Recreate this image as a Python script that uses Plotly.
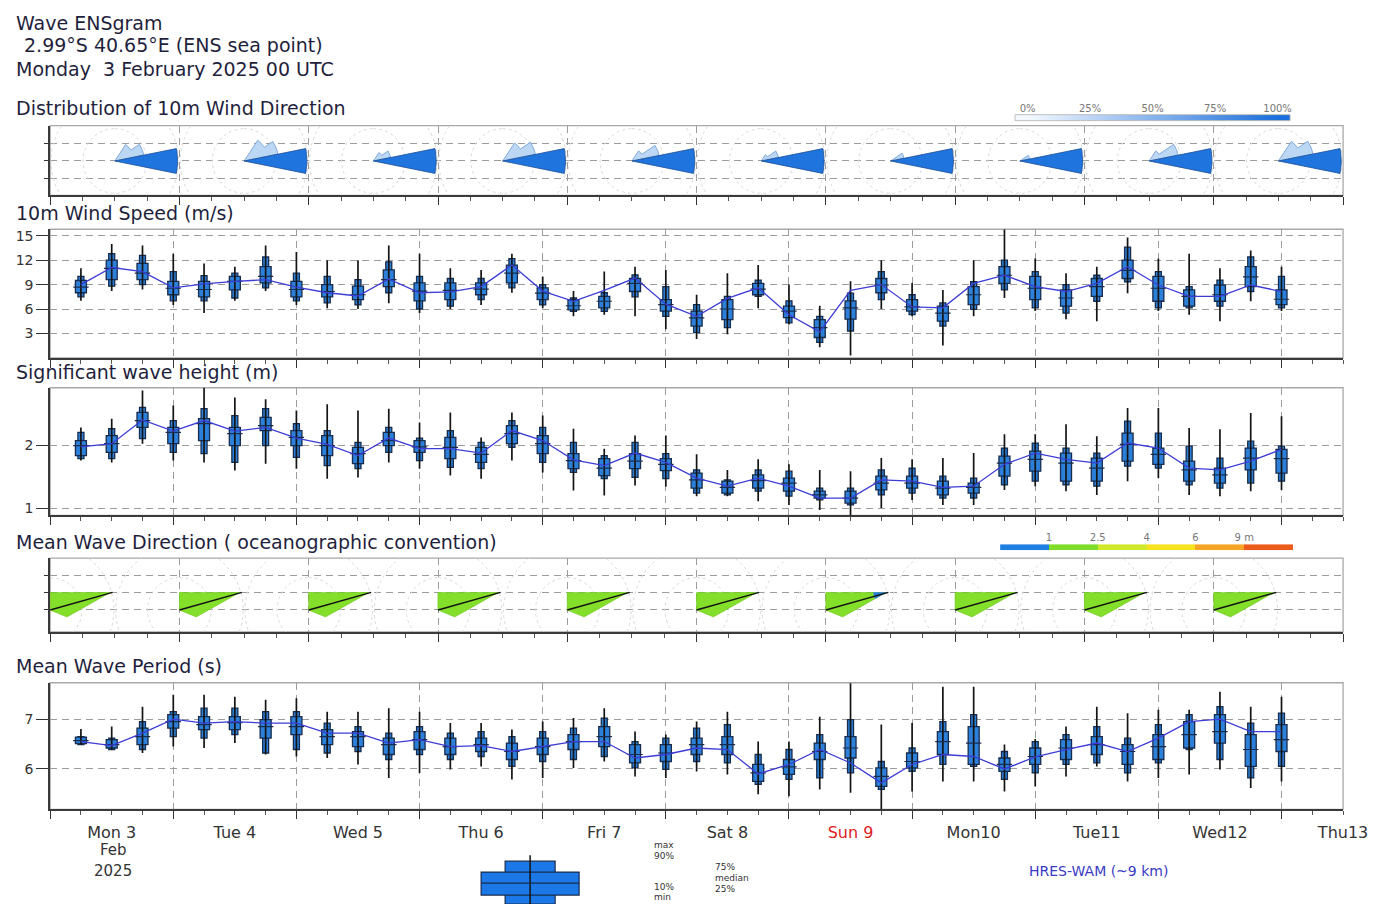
import numpy as np
import pandas as pd
import plotly.graph_objects as go

FONT = "DejaVu Sans"
# the page is rendered with the default 8px body margin; the photograph is squeezed
# horizontally by about 0.982, so reference x positions are converted accordingly
PAGE_OFF = 8
SX = 0.982
FIG_W, FIG_H = 1385, 897

# ---------------- data ----------------
box_times = pd.date_range("2025-02-03 06:00", periods=40, freq="6h")
day_label_times = pd.date_range("2025-02-03 12:00", periods=11, freq="D")
day_labels = ["Mon 3", "Tue 4", "Wed 5", "Thu 6", "Fri 7", "Sat 8",
              '<span style="color:#e0201e">Sun 9</span>', "Mon10", "Tue11", "Wed12", "Thu13"]

# 10m wind speed (m/s): ensemble min, p10, p25, median, p75, p90, max and HRES
ws_min = [7.0, 8.2, 8.4, 6.5, 5.5, 7.0, 8.2, 6.5, 6.1, 6.0, 6.7, 5.5, 6.0, 6.5, 8.0, 6.1, 5.1, 5.3, 5.1, 3.5,
          2.3, 2.9, 6.1, 4.1, 1.3, 0.3, 6.0, 5.1, 1.5, 5.1, 7.35, 5.75, 4.75, 4.5, 7.95, 5.75, 5.3, 4.5, 6.95, 5.75]
ws_p10 = [7.5, 8.8, 9.0, 7.0, 7.0, 7.35, 8.6, 7.0, 6.75, 6.5, 8.0, 6.0, 6.35, 7.15, 8.6, 6.5, 5.7, 5.7, 7.5, 5.1,
          3.1, 3.7, 7.55, 4.3, 1.9, 3.3, 7.15, 5.3, 3.9, 5.95, 8.35, 6.15, 5.5, 6.95, 9.35, 6.15, 6.15, 6.35, 8.15, 6.15]
ws_p25 = [8.0, 9.6, 9.6, 7.75, 7.5, 8.35, 9.2, 7.5, 7.5, 7.15, 8.75, 7.0, 7.15, 7.75, 9.2, 7.15, 5.9, 6.15, 8.15, 5.75,
          3.9, 4.7, 7.75, 4.95, 2.5, 4.75, 8.0, 5.75, 4.5, 6.55, 9.15, 7.15, 6.35, 7.55, 9.75, 6.95, 6.35, 6.95, 8.75, 6.55]
ws_med = [8.7, 11.0, 10.4, 8.55, 8.4, 9.4, 10.0, 8.4, 8.15, 7.75, 9.6, 8.2, 8.3, 8.45, 10.4, 7.95, 6.4, 6.95, 9.15, 6.55,
          4.9, 6.0, 8.45, 5.75, 3.7, 6.15, 8.95, 6.25, 5.5, 7.75, 10.15, 8.55, 7.35, 8.75, 10.75, 8.55, 7.55, 7.75, 9.95, 7.2]
ws_p75 = [9.5, 12.0, 11.6, 9.4, 9.4, 10.0, 11.2, 9.4, 9.0, 8.8, 10.8, 9.2, 9.2, 9.2, 11.4, 8.6, 7.15, 7.55, 9.75, 7.15,
          5.75, 7.15, 9.15, 6.35, 4.7, 7.0, 9.75, 7.15, 6.35, 8.75, 11.2, 10.0, 8.35, 9.75, 12.0, 10.0, 8.35, 8.95, 11.2, 8.35]
ws_p90 = [10.0, 12.8, 12.6, 10.6, 10.1, 10.4, 12.4, 10.4, 10.0, 9.6, 11.8, 10.0, 9.75, 9.75, 12.2, 9.0, 7.35, 8.0, 10.2, 8.75,
          6.55, 7.55, 9.55, 7.0, 5.1, 7.95, 10.6, 7.75, 6.75, 9.35, 12.0, 10.6, 9.0, 10.15, 13.6, 10.6, 8.75, 9.55, 12.4, 10.0]
ws_max = [11.0, 14.0, 13.8, 12.8, 11.6, 11.2, 13.8, 13.0, 12.0, 12.0, 13.8, 12.8, 11.0, 10.8, 12.8, 10.0, 8.2, 10.6, 11.2, 10.8,
          7.75, 10.4, 11.4, 9.0, 6.4, 9.4, 12.0, 9.2, 8.35, 12.0, 15.8, 12.2, 10.4, 11.2, 14.8, 12.2, 12.8, 11.0, 13.2, 11.2]
ws_hres = [9.0, 11.1, 10.6, 8.6, 9.1, 9.4, 9.6, 8.7, 8.0, 7.6, 9.7, 8.0, 8.1, 8.75, 11.4, 8.2, 6.95, 8.3, 9.8, 6.6,
           5.1, 7.3, 8.6, 5.3, 3.2, 8.3, 9.0, 6.25, 6.15, 9.15, 10.15, 8.75, 8.15, 9.15, 11.2, 8.95, 7.55, 7.55, 8.95, 8.15]

# Significant wave height (m)
swh_min = [1.76, 1.73, 2.03, 1.76, 1.73, 1.6, 1.71, 1.63, 1.47, 1.49, 1.73, 1.63, 1.52, 1.47, 1.76, 1.57, 1.28, 1.2, 1.36, 1.34,
           1.19, 1.19, 1.11, 1.05, 0.97, 0.89, 1.0, 1.13, 1.05, 1.05, 1.29, 1.35, 1.27, 1.21, 1.43, 1.48, 1.21, 1.19, 1.27, 1.29]
swh_p10 = [1.79, 1.79, 2.11, 1.89, 1.87, 1.73, 2.0, 1.81, 1.68, 1.63, 1.89, 1.76, 1.65, 1.63, 1.97, 1.73, 1.57, 1.47, 1.49, 1.47,
           1.24, 1.21, 1.27, 1.19, 1.13, 1.05, 1.21, 1.24, 1.16, 1.16, 1.37, 1.43, 1.37, 1.35, 1.67, 1.64, 1.37, 1.32, 1.4, 1.43]
swh_p25 = [1.84, 1.89, 2.29, 2.03, 2.08, 2.0, 2.24, 2.0, 1.84, 1.71, 2.0, 1.89, 1.79, 1.73, 2.03, 1.87, 1.63, 1.52, 1.63, 1.6,
           1.32, 1.24, 1.32, 1.27, 1.16, 1.08, 1.29, 1.32, 1.21, 1.24, 1.51, 1.59, 1.43, 1.43, 1.75, 1.7, 1.43, 1.4, 1.61, 1.56]
swh_med = [2.0, 2.03, 2.4, 2.21, 2.35, 2.19, 2.32, 2.13, 2.0, 1.87, 2.08, 1.98, 1.97, 1.86, 2.19, 2.03, 1.76, 1.64, 1.75, 1.7,
           1.45, 1.33, 1.44, 1.4, 1.21, 1.16, 1.4, 1.4, 1.32, 1.33, 1.72, 1.78, 1.72, 1.64, 2.02, 1.86, 1.61, 1.53, 1.8, 1.79]
swh_p75 = [2.08, 2.16, 2.53, 2.29, 2.43, 2.29, 2.45, 2.24, 2.16, 1.97, 2.21, 2.08, 2.13, 1.97, 2.32, 2.16, 1.87, 1.79, 1.87, 1.79,
           1.56, 1.43, 1.53, 1.48, 1.27, 1.27, 1.51, 1.51, 1.43, 1.4, 1.83, 1.91, 1.88, 1.8, 2.2, 1.96, 1.75, 1.64, 1.96, 1.94]
swh_p90 = [2.21, 2.27, 2.61, 2.4, 2.59, 2.48, 2.59, 2.35, 2.24, 2.05, 2.29, 2.12, 2.24, 2.05, 2.4, 2.29, 2.05, 1.84, 2.05, 1.87,
           1.61, 1.45, 1.61, 1.59, 1.32, 1.32, 1.61, 1.64, 1.51, 1.48, 1.96, 2.04, 1.96, 1.88, 2.39, 2.2, 1.99, 1.8, 2.07, 1.99]
swh_max = [2.29, 2.43, 2.88, 2.64, 2.93, 2.77, 2.74, 2.56, 2.66, 2.56, 2.59, 2.37, 2.53, 2.13, 2.53, 2.48, 2.27, 1.95, 2.16, 2.16,
           1.86, 1.61, 1.78, 1.7, 1.61, 1.59, 1.8, 1.78, 1.8, 1.88, 2.18, 2.18, 2.34, 2.15, 2.6, 2.6, 2.28, 2.26, 2.52, 2.47]
swh_hres = [1.98, 2.03, 2.41, 2.23, 2.4, 2.23, 2.29, 2.12, 2.02, 1.84, 2.12, 1.95, 1.95, 1.88, 2.24, 2.08, 1.77, 1.68, 1.88, 1.73,
            1.48, 1.35, 1.48, 1.35, 1.16, 1.16, 1.45, 1.43, 1.33, 1.35, 1.7, 1.88, 1.78, 1.72, 2.04, 1.96, 1.64, 1.61, 1.75, 1.94]

# Mean wave period (s)
mwp_min = [6.49, 6.39, 6.32, 6.45, 6.42, 6.52, 6.29, 6.25, 6.22, 6.09, 5.82, 5.92, 5.99, 6.05, 5.79, 5.82, 6.02, 6.15, 5.85, 5.82,
           5.95, 5.89, 5.49, 5.45, 5.59, 5.52, 5.19, 5.55, 5.75, 5.75, 5.55, 5.65, 5.85, 6.05, 5.75, 5.82, 5.89, 5.99, 5.62, 5.75]
mwp_p10 = [6.49, 6.39, 6.39, 6.65, 6.62, 6.69, 6.32, 6.39, 6.32, 6.35, 6.19, 6.29, 6.19, 6.25, 6.05, 6.15, 6.19, 6.25, 6.02, 5.99,
           6.15, 6.12, 5.69, 5.79, 5.82, 5.92, 5.59, 5.95, 6.09, 6.05, 5.79, 5.92, 6.09, 6.12, 5.92, 6.12, 6.39, 6.19, 5.82, 6.05]
mwp_p25 = [6.51, 6.42, 6.49, 6.82, 6.79, 6.79, 6.62, 6.69, 6.49, 6.45, 6.29, 6.39, 6.29, 6.35, 6.19, 6.29, 6.39, 6.45, 6.12, 6.15,
           6.29, 6.29, 5.75, 5.89, 6.19, 6.22, 5.65, 6.02, 6.29, 6.09, 5.95, 6.09, 6.19, 6.29, 6.09, 6.19, 6.42, 6.52, 6.05, 6.35]
mwp_med = [6.57, 6.49, 6.65, 6.95, 6.89, 6.93, 6.85, 6.85, 6.65, 6.65, 6.49, 6.59, 6.45, 6.49, 6.35, 6.45, 6.55, 6.65, 6.29, 6.32,
           6.49, 6.49, 5.92, 6.04, 6.35, 6.42, 5.85, 6.15, 6.55, 6.52, 6.09, 6.25, 6.42, 6.49, 6.35, 6.45, 6.69, 6.75, 6.39, 6.59]
mwp_p75 = [6.64, 6.59, 6.82, 7.09, 7.05, 7.05, 6.99, 7.05, 6.79, 6.75, 6.62, 6.75, 6.62, 6.62, 6.52, 6.62, 6.69, 6.85, 6.49, 6.49,
           6.62, 6.65, 6.09, 6.19, 6.52, 6.65, 6.02, 6.32, 6.75, 6.85, 6.22, 6.42, 6.59, 6.65, 6.49, 6.69, 6.95, 7.09, 6.69, 6.89]
mwp_p90 = [6.65, 6.62, 6.95, 7.15, 7.22, 7.22, 7.15, 7.15, 6.92, 6.85, 6.72, 6.85, 6.72, 6.75, 6.65, 6.75, 6.82, 7.02, 6.55, 6.62,
           6.82, 6.89, 6.29, 6.39, 6.69, 6.99, 6.15, 6.42, 6.95, 7.09, 6.35, 6.55, 6.69, 6.85, 6.62, 6.89, 7.09, 7.25, 6.92, 7.12]
mwp_max = [6.8, 6.85, 7.25, 7.49, 7.49, 7.45, 7.39, 7.42, 7.15, 7.15, 7.22, 7.15, 6.92, 6.92, 6.79, 6.95, 7.02, 7.22, 6.75, 6.69,
           6.95, 7.15, 6.55, 6.55, 7.05, 7.72, 6.89, 6.92, 7.65, 7.65, 6.49, 6.6, 6.85, 7.25, 7.12, 7.19, 7.19, 7.55, 7.25, 7.45]
mwp_hres = [6.55, 6.47, 6.72, 7.0, 6.92, 6.95, 6.92, 6.92, 6.72, 6.72, 6.52, 6.59, 6.45, 6.47, 6.35, 6.45, 6.55, 6.55, 6.22, 6.29,
            6.42, 6.39, 5.9, 6.09, 6.39, 6.12, 5.72, 6.09, 6.29, 6.25, 6.0, 6.24, 6.39, 6.52, 6.35, 6.62, 6.95, 7.0, 6.75, 6.75]

# Wind direction distribution: one rose per day (centre = days since 3 Feb 00 UTC)
rose_days = [0.5, 1.5, 2.5, 3.5, 4.5, 5.5, 6.5, 7.5, 8.5, 9.5]
rose_sector_naut = [90.0, 67.5, 45.0]          # E, ENE, NE sectors (direction from)
rose_len_E = [1.0, 1.0, 1.0, 1.0, 1.0, 1.0, 1.0, 1.0, 1.0, 1.0]
rose_len_ENE = [0.47, 0.55, 0.28, 0.53, 0.44, 0.28, 0.22, 0.16, 0.47, 0.56]
rose_len_NE = [0.31, 0.39, 0.16, 0.34, 0.19, 0.12, 0.0, 0.0, 0.19, 0.37]

# Mean wave direction (oceanographic, going-to) distribution per day
wave_days = [0, 1, 2, 3, 4, 5, 6, 7, 8, 9]
wave_dir_bins = [0, 30, 55, 74, 90, 112]
wave_dir_len = [
    [17.5, 20.0, 30.5, 63.5, 29.6, 18.4],
    [17.5, 20.0, 30.5, 63.5, 29.6, 18.4],
    [17.5, 20.0, 30.5, 63.5, 29.6, 18.4],
    [17.5, 20.0, 30.5, 63.5, 29.6, 18.4],
    [17.5, 20.0, 30.5, 63.5, 29.6, 18.4],
    [17.5, 20.0, 30.5, 63.5, 29.6, 18.4],
    [17.5, 20.0, 30.5, 63.5, 29.6, 18.4],
    [17.5, 20.0, 30.5, 63.5, 29.6, 18.4],
    [17.5, 20.0, 30.5, 63.5, 29.6, 18.4],
    [17.5, 20.0, 30.5, 63.5, 29.6, 18.4],
]
wave_low_height = [0, 0, 0, 0, 0, 0, 1, 0, 0, 0]   # peak petal tip below 1 m
wave_hres_dir = [74.5, 74.5, 74.5, 74.5, 74.5, 74.5, 74.5, 74.5, 74.5, 74.5]

pct_levels = [0, 10, 20, 30, 40, 50, 60, 70, 80, 90, 100]
wh_classes = [0, 1, 2, 3, 4, 5]
wh_class_labels = ["1", "2.5", "4", "6", "9 m"]
wh_class_colors = ["#1f7fe0", "#7fdd2a", "#cfe82a", "#f8e11e", "#f6a624", "#ec5a1c"]

legend_box = [0, 8, 17, 29, 40, 51, 57]   # min, p10, p25, median, p75, p90, max (legend sample)


# ---------------- helpers ----------------
def px_x(x):
    return (x / SX - PAGE_OFF) / FIG_W


def px_y(y):
    return 1 - (y - PAGE_OFF) / FIG_H


XDOM = [px_x(50), px_x(1343)]
PX_PER_DAY = (1343 - 50) / SX / 10.0
DATE_RANGE = ["2025-02-03 00:00", "2025-02-13 12:00"]
SIX_H = 6 * 3600 * 1000
WIDE_MS = SIX_H * 11 / 30.75
NARROW_MS = SIX_H * 6 / 30.75
BOX_FILL = "#2c80d9"
BOX_EDGE = "#172c4e"
HRES_COL = "#3c3cd6"
GRID_COL = "#9c9c9c"
GRID_DASH = "7px,5px"

fig = go.Figure()


def ens_panel(xa, ya, mn, p10, p25, med, p75, p90, mx, hres):
    wx, wy = [], []
    for t, a, b in zip(box_times, mn, mx):
        wx += [t, t, None]
        wy += [a, b, None]
    fig.add_trace(go.Scatter(x=wx, y=wy, mode="lines", line=dict(color="#141414", width=1.7),
                             xaxis=xa, yaxis=ya, showlegend=False, hoverinfo="skip"))
    fig.add_trace(go.Bar(x=box_times, y=[b - a for a, b in zip(p10, p90)], base=p10, width=NARROW_MS,
                         marker=dict(color=BOX_FILL, line=dict(color=BOX_EDGE, width=1.3)),
                         xaxis=xa, yaxis=ya, showlegend=False, hoverinfo="skip"))
    fig.add_trace(go.Bar(x=box_times, y=[b - a for a, b in zip(p25, p75)], base=p25, width=WIDE_MS,
                         marker=dict(color=BOX_FILL, line=dict(color=BOX_EDGE, width=1.3)),
                         xaxis=xa, yaxis=ya, showlegend=False, hoverinfo="skip"))
    fig.add_trace(go.Scatter(x=box_times, y=med, mode="markers",
                             marker=dict(symbol="line-ew", size=11, line=dict(color=BOX_EDGE, width=1.2)),
                             xaxis=xa, yaxis=ya, showlegend=False, hoverinfo="skip"))
    fig.add_trace(go.Scatter(x=box_times, y=hres, mode="lines", line=dict(color=HRES_COL, width=1.3),
                             xaxis=xa, yaxis=ya, showlegend=False, hoverinfo="skip"))


def polar(cx, naut, r):
    a = np.radians(90.0 - np.asarray(naut, float))
    r = np.asarray(r, float)
    return cx + r * np.cos(a) / PX_PER_DAY, r * np.sin(a)


def circles(centres, radii):
    xs, ys = [], []
    th = np.linspace(0, 360, 91)
    for c in centres:
        for r in radii:
            x, y = polar(c, th, np.full_like(th, r))
            xs += list(x) + [None]
            ys += list(y) + [None]
    return xs, ys


# ---------------- wind direction roses ----------------
ROSE_R = 64.0
HALF = 11.25
cx_, cy_ = circles(rose_days, [32.5, 65.0])
fig.add_trace(go.Scatter(x=cx_, y=cy_, mode="lines", line=dict(color="#dadada", width=1, dash="dot"),
                         xaxis="x", yaxis="y", showlegend=False, hoverinfo="skip"))
dx, dy, lx, ly = [], [], [], []
for c, lE, lENE, lNE in zip(rose_days, rose_len_E, rose_len_ENE, rose_len_NE):
    arc = np.linspace(rose_sector_naut[0] - HALF, rose_sector_naut[0] + HALF, 9)
    x, y = polar(c, arc, np.full_like(arc, lE * ROSE_R))
    dx += [c] + list(x) + [c, None]
    dy += [0] + list(y) + [0, None]
    if lENE > 0:
        px_, py_ = [c], [0]
        if lNE > 0:
            a2 = np.linspace(rose_sector_naut[2] - HALF, rose_sector_naut[2] + HALF, 5)
            x, y = polar(c, a2, np.full_like(a2, lNE * ROSE_R))
            px_ += list(x); py_ += list(y)
        a1 = np.linspace(rose_sector_naut[1] - HALF, rose_sector_naut[1] + HALF, 5)
        x, y = polar(c, a1, np.full_like(a1, lENE * ROSE_R))
        px_ += list(x); py_ += list(y)
        lx += px_ + [c, None]
        ly += py_ + [0, None]
fig.add_trace(go.Scatter(x=lx, y=ly, mode="lines", fill="toself", fillcolor="#bcd7f4",
                         line=dict(color="#6b9ad6", width=0.8), xaxis="x", yaxis="y",
                         showlegend=False, hoverinfo="skip"))
fig.add_trace(go.Scatter(x=dx, y=dy, mode="lines", fill="toself", fillcolor="#1f74de",
                         line=dict(color="#1d4f96", width=0.8), xaxis="x", yaxis="y",
                         showlegend=False, hoverinfo="skip"))

# ---------------- wave direction roses ----------------
cx_, cy_ = circles(wave_days, [32.5, 65.0])
fig.add_trace(go.Scatter(x=cx_, y=cy_, mode="lines", line=dict(color="#dadada", width=1, dash="dot"),
                         xaxis="x4", yaxis="y4", showlegend=False, hoverinfo="skip"))
gx, gy, bx, by, hx, hy = [], [], [], [], [], []
for c, lens, low, hd in zip(wave_days, wave_dir_len, wave_low_height, wave_hres_dir):
    x, y = polar(c, wave_dir_bins, lens)
    gx += [c] + list(x) + [c, None]
    gy += [0] + list(y) + [0, None]
    if low:
        k = int(np.argmax(lens))
        f = 0.35
        tx, ty = x[k], y[k]
        bx += [tx, tx + f * (x[k - 1] - tx), tx + f * (x[k + 1] - tx), tx, None]
        by += [ty, ty + f * (y[k - 1] - ty), ty + f * (y[k + 1] - ty), ty, None]
    ex, ey = polar(c, [hd], [66.0])
    hx += [c, ex[0], None]
    hy += [0, ey[0], None]
fig.add_trace(go.Scatter(x=gx, y=gy, mode="lines", fill="toself", fillcolor="#84df2b",
                         line=dict(color="#74cc22", width=0.8), xaxis="x4", yaxis="y4",
                         showlegend=False, hoverinfo="skip"))
fig.add_trace(go.Scatter(x=bx, y=by, mode="lines", fill="toself", fillcolor="#2a7de0",
                         line=dict(color="#2a7de0", width=0.5), xaxis="x4", yaxis="y4",
                         showlegend=False, hoverinfo="skip"))
fig.add_trace(go.Scatter(x=hx, y=hy, mode="lines", line=dict(color="#111111", width=1.4),
                         xaxis="x4", yaxis="y4", showlegend=False, hoverinfo="skip"))

# ---------------- ensemble panels ----------------
ens_panel("x2", "y2", ws_min, ws_p10, ws_p25, ws_med, ws_p75, ws_p90, ws_max, ws_hres)
ens_panel("x3", "y3", swh_min, swh_p10, swh_p25, swh_med, swh_p75, swh_p90, swh_max, swh_hres)
ens_panel("x5", "y5", mwp_min, mwp_p10, mwp_p25, mwp_med, mwp_p75, mwp_p90, mwp_max, mwp_hres)

# invisible trace carrying the day-label axis
fig.add_trace(go.Scatter(x=day_label_times, y=[6.5] * len(day_label_times), mode="markers",
                         marker=dict(opacity=0), xaxis="x6", yaxis="y5", showlegend=False, hoverinfo="skip"))

# ---------------- legends ----------------
fig.add_trace(go.Heatmap(z=[pct_levels], x=pct_levels, y=[0], colorscale=[[0, "#f3f8fe"], [1, "#1c6fdc"]],
                         zsmooth="best", showscale=False, xaxis="x7", yaxis="y7", hoverinfo="skip"))
cs = []
n = len(wh_class_colors)
for i, col in enumerate(wh_class_colors):
    cs += [[i / n, col], [(i + 1) / n, col]]
fig.add_trace(go.Heatmap(z=[wh_classes], x=[c + 0.5 for c in wh_classes], y=[0], colorscale=cs,
                         zmin=-0.5, zmax=5.5, showscale=False, xaxis="x8", yaxis="y8", hoverinfo="skip"))

lmin, l10, l25, lmed, l75, l90, lmax = legend_box
fig.add_trace(go.Scatter(x=[0, 0], y=[lmin, lmax], mode="lines", line=dict(color="#141414", width=1.5),
                         xaxis="x9", yaxis="y9", showlegend=False, hoverinfo="skip"))
fig.add_trace(go.Bar(x=[0], y=[l90 - l10], base=[l10], width=50, marker=dict(color="#1b78e6", line=dict(color=BOX_EDGE, width=1.2)),
                     xaxis="x9", yaxis="y9", showlegend=False, hoverinfo="skip"))
fig.add_trace(go.Bar(x=[0], y=[l75 - l25], base=[l25], width=98, marker=dict(color="#1b78e6", line=dict(color=BOX_EDGE, width=1.2)),
                     xaxis="x9", yaxis="y9", showlegend=False, hoverinfo="skip"))
fig.add_trace(go.Scatter(x=[-49, 49], y=[lmed, lmed], mode="lines", line=dict(color=BOX_EDGE, width=1.3),
                         xaxis="x9", yaxis="y9", showlegend=False, hoverinfo="skip"))


# ---------------- axes ----------------
def date_x(anchor):
    return dict(type="date", domain=XDOM, range=DATE_RANGE, anchor=anchor,
                tick0="2025-02-03 00:00", dtick=86400000, ticks="outside", ticklen=8, tickwidth=1.3,
                tickcolor="#333", showticklabels=False, showgrid=True, gridcolor=GRID_COL,
                griddash=GRID_DASH, gridwidth=1, showline=True, linecolor="#3a3a3a", linewidth=1.6,
                zeroline=False,
                minor=dict(tick0="2025-02-03 00:00", dtick=SIX_H, ticks="outside", ticklen=4, tickwidth=1,
                           tickcolor="#555", showgrid=False))


def dir_x(anchor):
    return dict(domain=XDOM, range=[0, 10], anchor=anchor, tick0=0, dtick=1, ticks="outside", ticklen=8,
                tickwidth=1.3, tickcolor="#333", showticklabels=False, showgrid=True, gridcolor=GRID_COL,
                griddash=GRID_DASH, showline=True, linecolor="#3a3a3a", linewidth=1.6, zeroline=False,
                minor=dict(tick0=0, dtick=0.25, ticks="outside", ticklen=4, tickcolor="#555", showgrid=False))


def val_y(anchor, y0, y1, rng, tv):
    return dict(domain=[px_y(y1), px_y(y0)], range=rng, anchor=anchor, tickvals=tv, ticks="outside",
                ticklen=12, tickwidth=1.2, tickcolor="#333", showgrid=True, gridcolor=GRID_COL,
                griddash=GRID_DASH, showline=True, linecolor="#3a3a3a", linewidth=1.6, zeroline=False,
                tickfont=dict(family=FONT, size=14, color="#333"))


def dir_y(anchor, y0, y1, rng, tv):
    d = val_y(anchor, y0, y1, rng, tv)
    d.update(showticklabels=False, ticklen=4)
    return d


layout = dict(
    width=FIG_W, height=FIG_H, autosize=False, margin=dict(l=0, r=0, t=0, b=0, pad=0),
    paper_bgcolor="white", plot_bgcolor="white", barmode="overlay", showlegend=False,
    font=dict(family=FONT, color="#222"),
    xaxis=dir_x("y"), yaxis=dir_y("x", 124, 194, [-34.5, 35.5], [-17.5, 0, 17.5]),
    xaxis2=date_x("y2"), yaxis2=val_y("x2", 228, 357, [0, 15.8], [3, 6, 9, 12, 15]),
    xaxis3=date_x("y3"), yaxis3=val_y("x3", 387, 515, [0.884, 2.925], [1, 2]),
    xaxis4=dir_x("y4"), yaxis4=dir_y("x4", 558, 632, [-22, 52], [0, 17.5, 35]),
    xaxis5=date_x("y5"), yaxis5=val_y("x5", 683, 810, [5.19, 7.73], [6, 7]),
    xaxis6=dict(type="date", overlaying="x5", anchor="y5", range=DATE_RANGE, tickvals=list(day_label_times),
                ticktext=day_labels, ticks="outside", ticklen=8, tickcolor="rgba(0,0,0,0)", showgrid=False,
                showline=False, zeroline=False, tickfont=dict(family=FONT, size=16, color="#333")),
    xaxis7=dict(domain=[px_x(1015), px_x(1290)], range=[-5, 105], anchor="y7", side="top",
                tickvals=[0, 25, 50, 75, 100], ticktext=["0%", "25%", "50%", "75%", "100%"], ticks="",
                showgrid=False, zeroline=False, showline=False, tickfont=dict(family=FONT, size=10, color="#777")),
    yaxis7=dict(domain=[px_y(119), px_y(113)], range=[-0.5, 0.5], anchor="x7", visible=False),
    xaxis8=dict(domain=[px_x(1000), px_x(1293)], range=[0, 6], anchor="y8", side="top",
                tickvals=[1, 2, 3, 4, 5], ticktext=wh_class_labels, ticks="", showgrid=False, zeroline=False,
                showline=False, tickfont=dict(family=FONT, size=10, color="#777")),
    yaxis8=dict(domain=[px_y(550), px_y(544)], range=[-0.5, 0.5], anchor="x8", visible=False),
    xaxis9=dict(domain=[px_x(470), px_x(590)], range=[-60, 60], anchor="y9", visible=False),
    yaxis9=dict(domain=[0, px_y(850)], range=[913 - (PAGE_OFF + FIG_H), 63], anchor="x9", visible=False),
)
fig.update_layout(**layout)

# panel frames (light grey top/right)
shapes = []
for n_ in ["", "2", "3", "4", "5"]:
    shapes.append(dict(type="rect", xref=f"x{n_} domain", yref=f"y{n_} domain", x0=0, x1=1, y0=0, y1=1,
                       line=dict(color="#a8a8a8", width=1.3), layer="below"))
shapes.append(dict(type="rect", xref="x7 domain", yref="y7 domain", x0=0, x1=1, y0=0, y1=1,
                   line=dict(color="#b0b0b0", width=0.8)))
fig.update_layout(shapes=shapes)

# ---------------- texts ----------------
TXT = "#1f1f3d"


def txt(x, y, s, size, color=TXT, anchor="left", yanchor="middle"):
    return dict(x=px_x(x), y=px_y(y), xref="paper", yref="paper", text=s, showarrow=False,
                xanchor=anchor, yanchor=yanchor, font=dict(family=FONT, size=size, color=color))


ann = [
    txt(14, 8.5, "Wave ENSgram", 19, yanchor="top"),
    txt(22, 43.5, "2.99°S 40.65°E (ENS sea point)", 19),
    txt(14, 67.5, "Monday\u00a0\u00a03 February 2025 00 UTC", 19),
    txt(14, 106, "Distribution of 10m Wind Direction", 19),
    txt(14, 212, "10m Wind Speed (m/s)", 19),
    txt(14, 371, "Significant wave height (m)", 19),
    txt(14, 542, "Mean Wave Direction ( oceanographic convention)", 19),
    txt(14, 666, "Mean Wave Period (s)", 19),
    txt(113, 851, "Feb", 15, "#333", "center"),
    txt(113, 872, "2025", 15, "#333", "center"),
    txt(652, 846, "max", 9, "#333"),
    txt(652, 857, "90%", 9, "#333"),
    txt(713, 868, "75%", 9, "#333"),
    txt(713, 879, "median", 9, "#333"),
    txt(713, 890, "25%", 9, "#333"),
    txt(652, 888, "10%", 9, "#333"),
    txt(652, 898, "min", 9, "#333"),
    txt(1027, 872, "HRES-WAM (~9 km)", 14, "#3a3ac4"),
]
fig.update_layout(annotations=ann)

fig.write_html("out.html")
